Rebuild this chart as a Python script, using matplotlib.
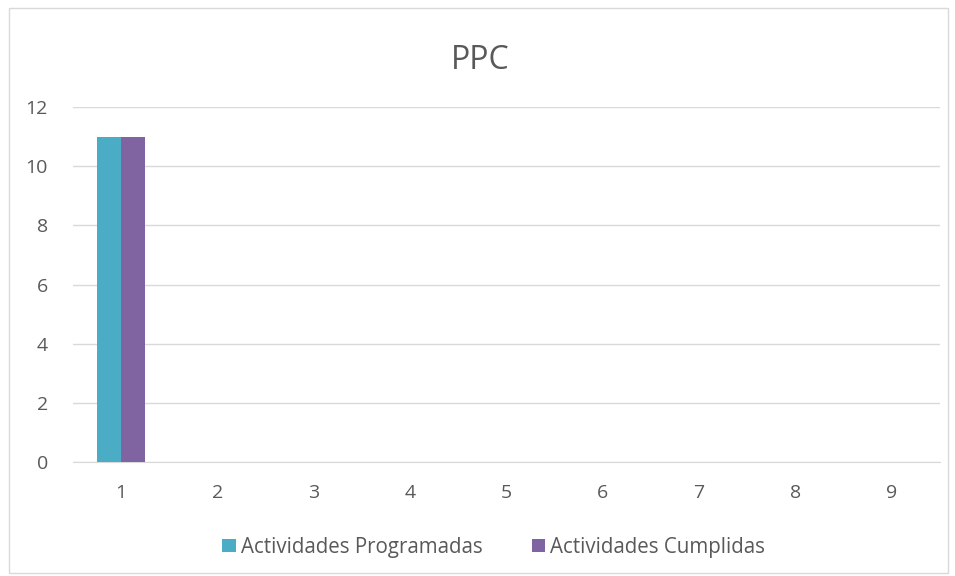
import matplotlib.pyplot as plt
import numpy as np
from matplotlib.patches import Rectangle

categories = ["1", "2", "3", "4", "5", "6", "7", "8", "9"]
programadas = [11, 0, 0, 0, 0, 0, 0, 0, 0]
cumplidas = [11, 0, 0, 0, 0, 0, 0, 0, 0]

plt.rcParams["font.family"] = ["Open Sans", "DejaVu Sans"]
text_color = "#595959"

fig = plt.figure(figsize=(9.55, 5.76), dpi=100)
ax = fig.add_axes([0.0764, 0.1979, 0.9079, 0.6163])

x = np.arange(len(categories))
w = 0.25
ax.bar(x - w / 2, programadas, w, color="#4BACC6", label="Actividades Programadas", zorder=3)
ax.bar(x + w / 2, cumplidas, w, color="#8064A2", label="Actividades Cumplidas", zorder=3)

ax.set_xlim(-0.5, len(categories) - 0.5)
ax.set_ylim(0, 12)
ax.set_yticks(range(0, 13, 2))
ax.set_xticks(x)
ax.set_xticklabels(categories)
ax.grid(axis="y", color="#d9d9d9", linewidth=1, zorder=0)
for s in ["top", "right", "left"]:
    ax.spines[s].set_visible(False)
ax.spines["bottom"].set_color("#d9d9d9")
ax.tick_params(length=0, labelsize=14, colors=text_color, pad=16)
ax.tick_params(axis="y", pad=18)

fig.text(0.503, 0.895, "PPC", ha="center", va="center", fontsize=23, color=text_color)

fig.legend(loc="center", bbox_to_anchor=(0.517, 0.05), ncol=2, frameon=False,
           fontsize=14.8, labelcolor=text_color, handlelength=0.65, handleheight=0.65,
           handletextpad=0.25, columnspacing=2.4)

fig.add_artist(Rectangle((0.009, 0.005), 0.984, 0.981, transform=fig.transFigure,
                         fill=False, edgecolor="#d9d9d9", linewidth=1))

fig.savefig("out.png", dpi=100)
